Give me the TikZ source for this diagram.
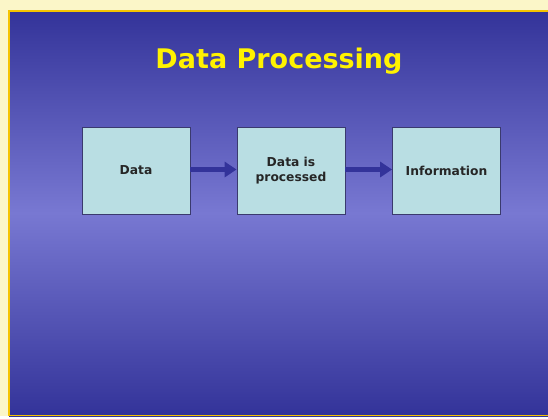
\documentclass[tikz,border=0pt]{standalone}
\usepackage{fontspec}
\setmainfont{DejaVu Sans}
\usetikzlibrary{arrows.meta}
\definecolor{slidedark}{HTML}{333399}
\definecolor{slidelight}{HTML}{7878D2}
\definecolor{boxfill}{HTML}{B9DEE3}
\definecolor{boxline}{HTML}{3A3A6E}
\definecolor{arrowblue}{HTML}{33339A}
\definecolor{edgegold}{HTML}{F5C400}
\definecolor{paleglow}{HTML}{FBF6C8}
\tikzset{
  x=1pt, y=-1pt,
  stagebox/.style={draw=boxline, line width=0.8pt, fill=boxfill, minimum width=108pt, minimum height=87pt, inner sep=0pt, align=center, font=\bfseries\fontsize{12.3}{15}\selectfont, text=black!85},
  flowarrow/.style={draw=arrowblue, line width=4.5pt, -{Triangle[length=12pt, width=15pt]}},
}
\begin{document}
\begin{tikzpicture}
\useasboundingbox (0,0) rectangle (548,418);
\fill[paleglow] (0,0) rectangle (548,418);
\fill[white] (0,416) rectangle (548,418);
\shade[top color=slidedark, bottom color=slidedark, middle color=slidelight] (9,10) rectangle (548,416);
\draw[edgegold, line width=1.5pt] (548,11) -- (9,11) -- (9,415.5) -- (548,415.5);
\node[text=yellow, font=\bfseries\fontsize{27}{32}\selectfont] (title) at (279,61.5) {Data Processing};
\node[stagebox] (data) at (136,170.5) {Data};
\node[stagebox] (proc) at (291,170.5) {Data is\\processed};
\node[stagebox] (info) at (446.5,170.5) {Information};
\draw[flowarrow] (data.east |- 0,169.5) -- (proc.west |- 0,169.5);
\draw[flowarrow] (proc.east |- 0,169.5) -- (info.west |- 0,169.5);
\end{tikzpicture}
\end{document}
